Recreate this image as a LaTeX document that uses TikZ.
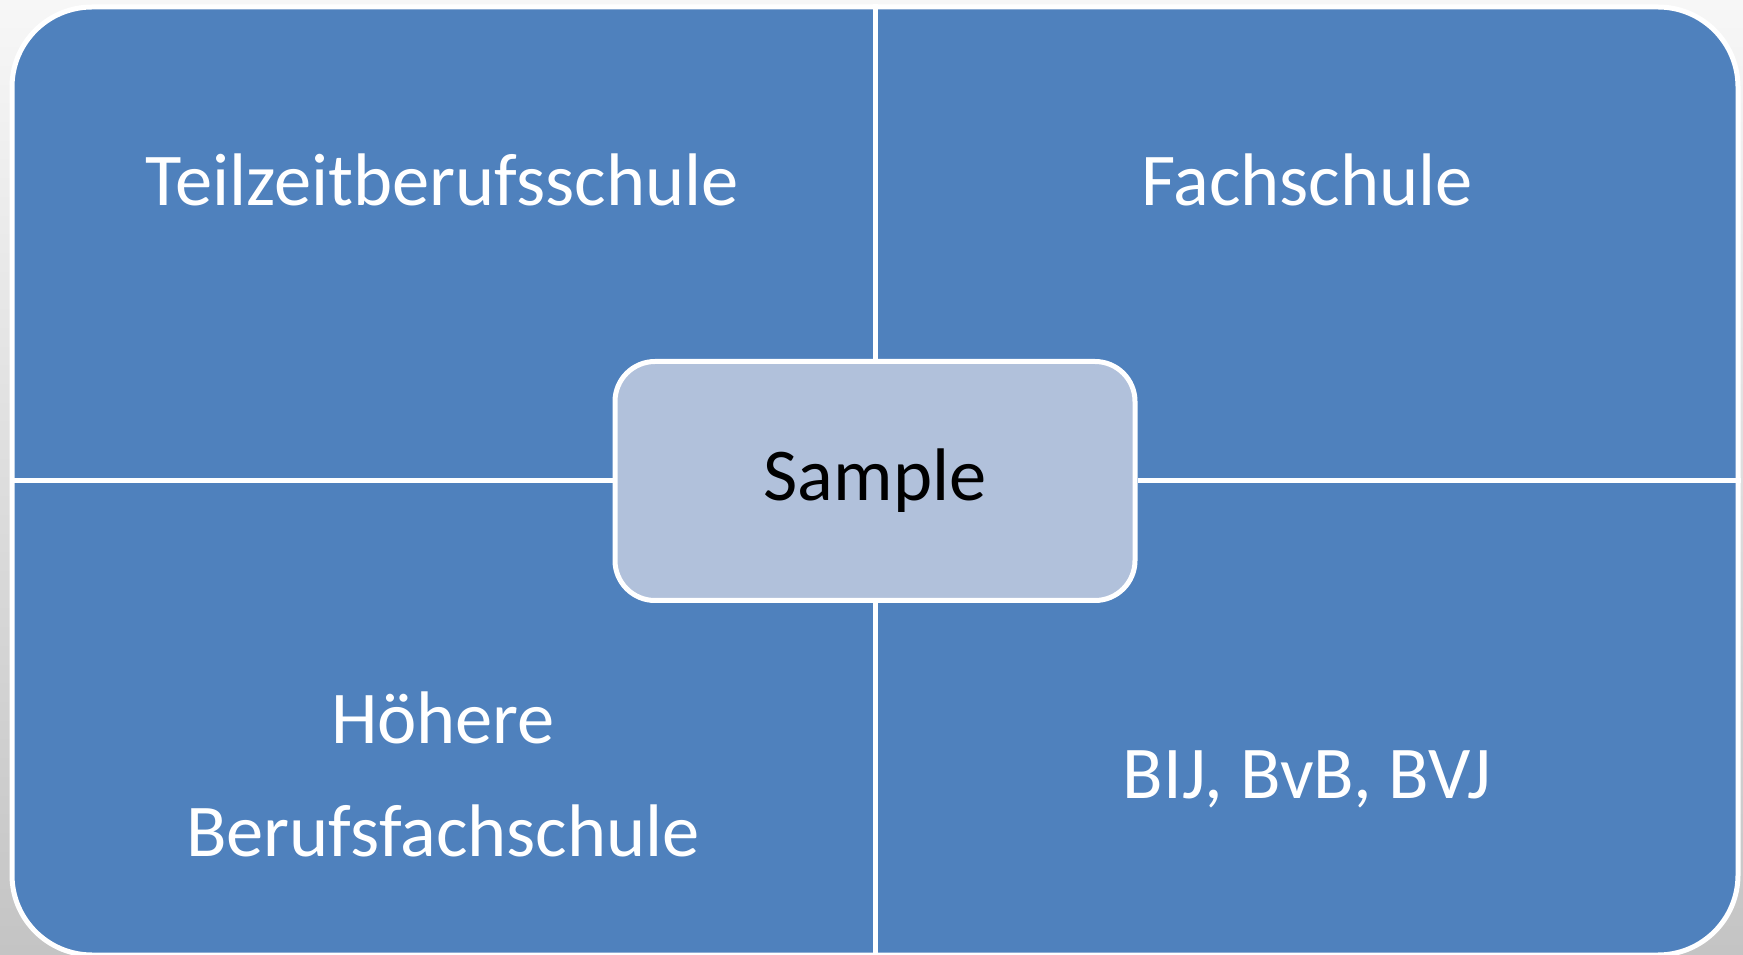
\documentclass[tikz,border=0pt]{standalone}
\usepackage{fontspec}
\setmainfont{Carlito}
\usetikzlibrary{positioning}

\definecolor{panelblue}{HTML}{4F81BD}
\definecolor{hubfill}{HTML}{B1C1DB}
\definecolor{bgtop}{HTML}{F7F7F7}
\definecolor{bgbottom}{HTML}{C4C4C4}

\begin{document}
\begin{tikzpicture}[
    x=1pt, y=1pt,
    frame/.style={draw=white, line width=5pt, fill=panelblue, rounded corners=80pt, minimum width=1726pt, minimum height=948pt, inner sep=0pt},
    hub/.style={draw=white, line width=5pt, fill=hubfill, rounded corners=40pt, minimum width=520pt, minimum height=239pt, inner sep=0pt, font=\fontsize{74.5}{113}\selectfont},
    celltext/.style={text=white, align=center, anchor=base, font=\fontsize{74.5}{113}\selectfont},
    divider/.style={white, line width=5pt}
]
  \useasboundingbox (0,0) rectangle (1743,954);
  \shade[top color=bgtop, bottom color=bgbottom] (0,0) rectangle (1743,954);

  \node[frame] (frame) at (875,473) {};
  \node[hub] (hub) at (875,473) {Sample};

  \draw[divider] (frame.north) -- (hub.north);
  \draw[divider] (hub.south) -- (frame.south);
  \draw[divider] (frame.west) -- (hub.west);
  \draw[divider] (hub.east) -- (frame.east);

  \node[celltext] (teil) at (442,748) {Teilzeitberufsschule};
  \node[celltext] (fach) at (1307,748) {Fachschule};
  \node[celltext] (hoehere) at (443,98) {Höhere\\Berufsfachschule};
  \node[celltext] (bij) at (1307,156) {BIJ, BvB, BVJ};
\end{tikzpicture}
\end{document}
